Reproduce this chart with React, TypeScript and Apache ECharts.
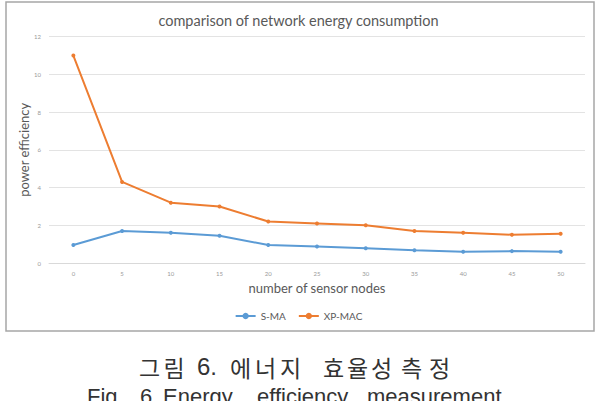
import React, { useEffect, useRef } from "react";
import * as echarts from "echarts";

// Number of sensor nodes on the x axis
const nodeCounts = ["0", "5", "10", "15", "20", "25", "30", "35", "40", "45", "50"];

// Power efficiency per protocol
const smaValues = [0.95, 1.7, 1.6, 1.45, 0.95, 0.88, 0.78, 0.68, 0.6, 0.63, 0.6];
const xpmacValues = [11.0, 4.3, 3.2, 3.0, 2.2, 2.1, 2.0, 1.7, 1.6, 1.5, 1.55];

const seriesNames = ["S-MA", "XP-MAC"];
const seriesColors = ["#5B9BD5", "#ED7D31"];

const chartTitle = "comparison of network energy consumption";
const xAxisTitle = "number of sensor nodes";
const yAxisTitle = "power efficiency";

// Figure caption, word by word (Korean words are spread out letter by letter)
const captionKo = [
  { text: "그림", x: 139, pitch: 24.5 },
  { text: "6.", x: 197, pitch: 0 },
  { text: "에너지", x: 230, pitch: 25 },
  { text: "효율성", x: 323, pitch: 24 },
  { text: "측정", x: 401, pitch: 28 },
];
const captionEn = [
  { text: "Fig.", x: 87 },
  { text: "6", x: 140 },
  { text: "Energy", x: 163 },
  { text: "efficiency", x: 257 },
  { text: "measurement", x: 367 },
];

export default function App() {
  const ref = useRef<HTMLDivElement>(null);

  useEffect(() => {
    if (!ref.current) return;
    const chart = echarts.init(ref.current, undefined, { renderer: "svg" });
    const uiFont = "Lato, 'Open Sans', sans-serif";

    const koTexts: any[] = [];
    captionKo.forEach((w) => {
      const isHangul = /[\uac00-\ud7a3]/.test(w.text);
      if (isHangul) {
        Array.from(w.text).forEach((ch, i) => {
          koTexts.push({
            type: "text",
            x: w.x + i * w.pitch,
            y: 366.5,
            style: {
              text: ch,
              fontFamily: "'Noto Sans CJK KR', sans-serif",
              fontSize: 23,
              fill: "#333333",
              verticalAlign: "middle",
            },
          });
        });
      } else {
        koTexts.push({
          type: "text",
          x: w.x,
          y: 366.5,
          style: {
            text: w.text,
            fontFamily: "'Liberation Sans', Arial, sans-serif",
            fontSize: 24,
            fill: "#333333",
            verticalAlign: "middle",
          },
        });
      }
    });

    chart.setOption({
      animation: false,
      backgroundColor: "#ffffff",
      title: {
        text: chartTitle,
        left: "center",
        top: 8,
        textStyle: { fontFamily: uiFont, fontSize: 14.5, fontWeight: "normal", color: "#595959" },
      },
      legend: {
        data: seriesNames,
        left: "center",
        top: 306,
        itemWidth: 20,
        itemHeight: 8,
        itemGap: 12,
        textStyle: { fontFamily: uiFont, fontSize: 10, color: "#595959" },
      },
      grid: { left: 49, right: 12, top: 36.7, bottom: 138 },
      xAxis: {
        type: "category",
        data: nodeCounts,
        boundaryGap: true,
        name: xAxisTitle,
        nameLocation: "middle",
        nameGap: 18,
        nameTextStyle: { fontFamily: uiFont, fontSize: 13, color: "#595959" },
        axisLine: { lineStyle: { color: "#d9d9d9" } },
        axisTick: { show: false },
        axisLabel: { fontSize: 6, color: "#9a9a9a", margin: 7, fontFamily: uiFont },
      },
      yAxis: {
        type: "value",
        min: 0,
        max: 12,
        interval: 2,
        name: yAxisTitle,
        nameLocation: "middle",
        nameGap: 19,
        nameMoveOverlap: false,
        nameTextStyle: { fontFamily: uiFont, fontSize: 13, color: "#595959" },
        axisLine: { show: false },
        axisTick: { show: false },
        axisLabel: { fontSize: 6, color: "#9a9a9a", margin: 8, fontFamily: uiFont },
        splitLine: { lineStyle: { color: "#e3e3e3" } },
      },
      series: [
        {
          name: seriesNames[0],
          type: "line",
          data: smaValues,
          color: seriesColors[0],
          symbol: "circle",
          symbolSize: 4,
          lineStyle: { width: 2 },
        },
        {
          name: seriesNames[1],
          type: "line",
          data: xpmacValues,
          color: seriesColors[1],
          symbol: "circle",
          symbolSize: 4,
          lineStyle: { width: 2 },
        },
      ],
      graphic: [
        {
          type: "rect",
          shape: { x: 6, y: 2, width: 588, height: 329 },
          style: { fill: "none", stroke: "#a6a6a6", lineWidth: 1.5 },
          silent: true,
        },
        ...koTexts,
        ...captionEn.map((w) => ({
          type: "text",
          x: w.x,
          y: 396,
          style: {
            text: w.text,
            fontFamily: "'Liberation Sans', Arial, sans-serif",
            fontSize: 22,
            fill: "#333333",
            verticalAlign: "middle",
          },
        })),
      ],
    });

    return () => chart.dispose();
  }, []);

  return (
    <div
      ref={ref}
      style={{ position: "fixed", left: 0, top: 0, width: 597, height: 401 }}
    />
  );
}
